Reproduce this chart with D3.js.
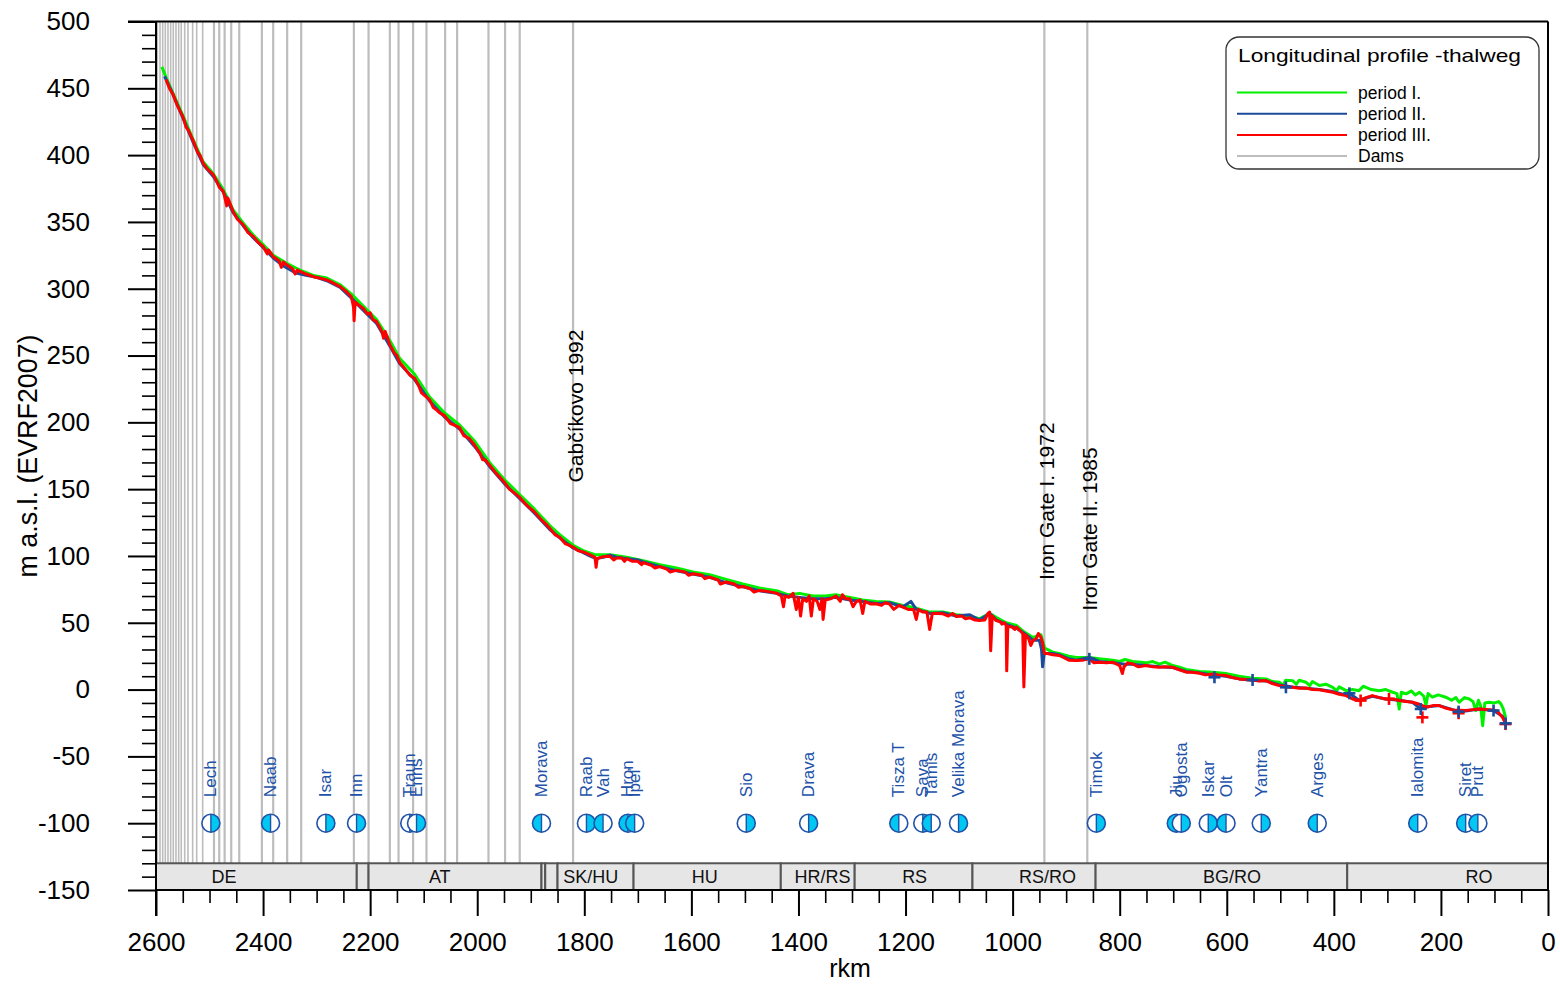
<!DOCTYPE html>
<html><head><meta charset="utf-8">
<script src="https://cdn.jsdelivr.net/npm/d3@7"></script>
<style>body{margin:0;background:#fff} svg{display:block} text{font-family:"Liberation Sans",Arial,Helvetica,sans-serif}</style>
</head><body><svg id="c" width="1560" height="985"></svg>
<script>
// ---------------- DATA ----------------
const yTicks = [-150,-100,-50,0,50,100,150,200,250,300,350,400,450,500];
const xTicks = [2600,2400,2200,2000,1800,1600,1400,1200,1000,800,600,400,200,0];

const damRkm = [2597.6,2592.5,2587.5,2582.6,2577.6,2572.6,2567.7,2562.7,2557.6,2552.8,2546.4,2540.3,2531.5,2524,2512.8,2491.7,2481.9,2471.8,2459.5,2444.5,2402.2,2381.1,2355,2328.8,2230.4,2203,2163.2,2147,2119.8,2094.8,2060,2037.6,1979,1948,1920.6,1821,940.7,860.5];
const damLabels = ["Gabčíkovo 1992","Iron Gate I. 1972","Iron Gate II. 1985"];
const damLabelRkm = [1821,940.7,860.5];
const damLabelElev = [155,82,59];

const tribNames = ["Lech","Naab","Isar","Inn","Traun","Enns","Morava","Raab","Vah","Hron","Ipeľ","Sio","Drava","Tisza T","Sava","Tamis","Velika Morava","Timok","Jiu","Ogosta","Iskar","Olt","Yantra","Arges","Ialomita","Siret","Prut"];
const tribRkm = [2497.5,2386,2282.7,2225.4,2126,2113.4,1880,1796,1765,1718.4,1706,1497.5,1381,1212.6,1167.8,1152,1101,843.6,694.3,685,634.6,601.4,535.6,431,243.3,153.8,131];
const tribBank = ["R","L","R","R","R","R","L","R","L","L","L","R","R","L","R","L","R","R","L","R","R","L","R","L","L","L","L"];
const tribElev = -100;

const countryFrom = [2600,2225,2203,1880,1873,1850,1708,1433,1295,1075,845,375];
const countryTo   = [2225,2203,1880,1873,1850,1708,1433,1295,1075,845,375,0];
const countryName = ["DE","","AT","","","SK/HU","HU","HR/RS","RS","RS/RO","BG/RO","RO"];
const countryLabelRkm = [2473,0,2070,0,0,1788,1575,1355,1183,935,590,129];

const legendNames = ["period I.","period II.","period III.","Dams"];

// period I (green)
const period1 = [[2589,466],[2580,457],[2568,446],[2549,429],[2530,411],[2512,395],[2493,386],[2474,374],[2456,359],[2437,349],[2418,340],[2400,333],[2381,325],[2356,319],[2331,314],[2306,310],[2281,308],[2256,303],[2235,296],[2213,287],[2188,277],[2163,261],[2145,248],[2117,236],[2089,219],[2061,207],[2033,198],[2005,186],[1977,170],[1949,157],[1921,146],[1893,135],[1865,123],[1846,116],[1821,108],[1802,104],[1780,101],[1752,101],[1721,99],[1690,96.5],[1659,93.5],[1628,91],[1597,88],[1566,86],[1535,82.5],[1504,79],[1473,76],[1441,74],[1420,71],[1398,72],[1373,70],[1350,70],[1330,71],[1304,69],[1280,67],[1255,66],[1230,65.5],[1205,63],[1180,61],[1155,58],[1130,58],[1105,56],[1080,55],[1062,53],[1043,57],[1030,54],[1012,50],[993,48],[978,43],[962,39],[947,41],[940,31],[925,28],[913,27],[895,25],[881,24],[857,24],[838,23],[813,22],[800,21],[790,22.5],[776,21],[751,20],[738,21],[726,19],[715,20.5],[701,18],[690,17],[676,15],[651,13.5],[626,13],[602,12],[577,10],[552,8.5],[527,8],[515,6],[502,5.5],[495,3],[490,7],[477,6.7],[470,4],[465,7],[452,5.5],[445,3],[440,6],[427,3],[415,4],[402,1.7],[395,-1],[390,2],[377,-0.8],[365,0],[353,-0.8],[345,2.5],[340,1.7],[330,0],[315,-0.8],[303,0],[290,-2],[282,-3],[278,-14.5],[274,-2],[265,-3.2],[255,-1],[248,-4],[240,-2],[232,-5],[228,-12],[224,-3],[216,-5.7],[205,-4],[191,-5.7],[180,-8],[172,-6],[166,-9.5],[156,-6],[147,-7],[140,-9],[135,-15.7],[130,-8],[126,-12],[122,-27],[118,-10],[110,-9.5],[100,-10],[92,-9],[88,-10.7],[84,-14],[79,-21]];

// period II (blue)
const period2 = [[2584,459],[2568,445],[2549,427],[2530,409],[2512,393],[2493,384],[2474,372],[2456,357],[2437,347],[2418,338],[2400,331],[2381,323],[2362,317],[2340,312],[2320,310],[2300,308.5],[2281,306],[2256,301],[2235,293],[2213,284],[2188,274],[2163,257],[2145,244],[2117,232],[2089,216],[2061,204],[2033,195],[2005,182],[1977,167],[1949,154],[1921,143],[1893,132],[1865,120],[1846,113.5],[1821,106],[1802,102.5],[1790,100],[1778,98],[1765,99],[1752,100.5],[1740,99],[1721,98],[1700,97],[1690,95.5],[1659,92],[1628,89],[1597,86.5],[1566,84],[1535,80],[1504,77],[1473,74],[1441,72],[1420,70],[1398,69],[1373,68],[1350,68],[1330,69],[1304,67],[1280,66],[1255,64.5],[1230,65],[1205,62],[1190,66],[1180,60],[1155,57],[1130,57.5],[1105,55],[1080,56],[1062,52],[1043,57],[1030,52],[1012,49],[993,46],[978,42],[962,37],[950,37],[946,30],[944,17],[941,27],[925,27],[913,26],[895,23],[881,22],[857,24],[838,21],[813,20],[790,19],[776,19],[751,18],[726,17],[701,16.5],[676,13.5],[651,12.5],[626,11],[602,10],[577,8],[552,7],[527,6.5],[502,3.5],[477,2],[452,1],[427,0],[402,-1.5],[377,-4],[371,-2.8],[353,-8],[328,-5],[303,-7],[278,-8],[253,-9.5],[238,-14.5],[228,-13],[203,-12],[178,-15],[167,-16.5],[154,-16],[129,-14.5],[102,-15.7],[85,-20],[79,-25.3]];

// period III (red)
const period3 = [[2581,456.6],[2575,450],[2568,445.3],[2560,437],[2549,428],[2544,421],[2540,419],[2530,410.3],[2522,402],[2518,400],[2512,394],[2505,390],[2493,385.4],[2485,379],[2482,376],[2474,372.8],[2468,362],[2466,368],[2456,357.9],[2448,352],[2437,347.9],[2428,342],[2418,339],[2410,335],[2400,331.6],[2392,326],[2390,329],[2381,324],[2370,321],[2366,316],[2362,320],[2356,317.9],[2345,315],[2340,311],[2336,314],[2331,312.9],[2320,311],[2306,309],[2295,308],[2281,306.6],[2270,304.5],[2256,301.6],[2245,298],[2235,294],[2231,286],[2230,276],[2228,290],[2222,288],[2213,285.4],[2205,281],[2200,282],[2195,277],[2188,275.4],[2178,268],[2175,263],[2172,268],[2163,258],[2155,252],[2150,250],[2145,245],[2135,240],[2125,235],[2117,233],[2110,228],[2104,222],[2098,220],[2089,217],[2082,211],[2075,209],[2070,207],[2061,205],[2050,199],[2043,198],[2033,196],[2025,190],[2015,188],[2005,183],[1995,177],[1990,172],[1985,172],[1977,168],[1965,162],[1958,159],[1949,155],[1940,150],[1930,147],[1921,144],[1910,139],[1902,136],[1893,133],[1880,127],[1872,124],[1865,121],[1855,116],[1846,114],[1835,109],[1828,108],[1821,106.7],[1812,104],[1802,103],[1790,101],[1780,99],[1778,91.5],[1776,98],[1765,99.5],[1752,99.7],[1745,97],[1740,98.5],[1730,98.5],[1725,96],[1721,98],[1710,96],[1700,96],[1693,93.5],[1690,95],[1675,93],[1668,91],[1659,92],[1645,90],[1640,88],[1628,89.2],[1612,88],[1605,85.5],[1597,86.7],[1580,85.5],[1575,83],[1566,84.2],[1550,82],[1546,79],[1535,80.5],[1520,79],[1512,76.5],[1504,77.2],[1490,75.5],[1483,73],[1473,74.2],[1458,73.5],[1441,72.2],[1432,70],[1428,62],[1425,70],[1418,69],[1410,72],[1404,60],[1400,69],[1396,55],[1392,68],[1385,66],[1380,70],[1376,55],[1372,68],[1365,66],[1360,60],[1356,68],[1354,52.5],[1350,67],[1340,68],[1330,70],[1322,66],[1318,71],[1312,68],[1304,68],[1298,62],[1292,66],[1285,67],[1280,57],[1276,66],[1265,64],[1255,64.2],[1245,63],[1238,65],[1230,64],[1222,60],[1212,63],[1205,61.7],[1195,60],[1185,60],[1180,52.5],[1176,60],[1168,58],[1160,58],[1155,45],[1150,57],[1140,57],[1130,56.7],[1120,55],[1112,57],[1105,54.7],[1095,55],[1088,53],[1080,53.7],[1070,52],[1062,51.7],[1052,52],[1046,57],[1043,58],[1041,29],[1038,55],[1031,51.7],[1024,51],[1020,49],[1015,50],[1012,48],[1011,14],[1009,47],[1002,47],[996,45],[993,46.7],[986,44],[981,42],[979,2],[976,41],[970,38],[966,33],[962,36.7],[956,38],[952,42],[947,39],[944,35],[940.5,27],[935,27],[925,26],[913,25.5],[905,24],[895,22],[881,21.7],[870,22],[857,23],[848,20],[838,20.5],[825,20],[813,20.5],[800,18],[795,12],[792,17],[785,20],[776,19.2],[765,17],[751,18],[738,17],[726,16.7],[715,17],[701,16.7],[690,15],[676,13],[665,13],[651,12.2],[640,11],[626,11.7],[615,11],[602,10.5],[590,9],[577,8],[565,7.5],[552,7.2],[540,6.5],[527,6.7],[515,4.5],[502,3],[490,2],[477,1.7],[465,1],[452,1.2],[440,0],[427,-0.2],[415,-1],[402,-2],[390,-3.5],[377,-4.5],[365,-7],[353,-8.2],[340,-6],[328,-4.5],[315,-6],[303,-7],[290,-7],[278,-8.2],[265,-9],[253,-9.5],[240,-11],[228,-13.2],[215,-12],[203,-12],[190,-14],[178,-15.2],[165,-15.5],[154,-15.7],[140,-15],[129,-14.5],[115,-15],[104,-15.2],[95,-16],[85,-20.8],[79,-25.3]];

const blueMarks = [[856.7,23],[623,9.2],[551.8,7.2],[489.5,1.7],[371,-2.8],[237.7,-14.5],[167,-16.5],[101.7,-15.7],[79,-25.3]];
const redMarks = [[350,-8.2],[297,-7],[234.6,-20.8],[167,-17.7],[79.4,-25.8]];

// ---------------- DRAW ----------------
const GREEN="#00f000", BLUE="#1d4b9c", RED="#ff0000", DAM="#bdbdbd", TRIB="#2152a8", CYAN="#00c8f2";
const svg=d3.select("#c");
const x=d3.scaleLinear().domain([2600,0]).range([156,1548]);
const y=d3.scaleLinear().domain([-150,500]).range([890,21.5]);

// dams
svg.append("g").selectAll("line").data(damRkm).join("line")
  .attr("x1",d=>x(d)).attr("x2",d=>x(d)).attr("y1",y(500)).attr("y2",y(-130))
  .attr("stroke",DAM).attr("stroke-width",d=>d>2500?1.6:2.2);

// country band
const band=svg.append("g");
countryName.forEach((n,i)=>{
  band.append("rect").attr("x",x(countryFrom[i])).attr("y",y(-130))
    .attr("width",x(countryTo[i])-x(countryFrom[i])).attr("height",y(-150)-y(-130))
    .attr("fill","#e6e6e6").attr("stroke","#555").attr("stroke-width",2);
  if(n) band.append("text").attr("x",x(countryLabelRkm[i])).attr("y",(y(-130)+y(-150))/2)
    .attr("text-anchor","middle").attr("dominant-baseline","central").attr("font-size",18).attr("fill","#111").text(n);
});

// profile lines
const line=d3.line().x(d=>x(d[0])).y(d=>y(d[1])).curve(d3.curveLinear);
[[period1,GREEN],[period2,BLUE],[period3,RED]].forEach(([data,c])=>{
  svg.append("path").datum(data).attr("d",line).attr("fill","none").attr("stroke",c)
    .attr("stroke-width",3).attr("stroke-linejoin","round");
});
function crosses(data,c){
  const g=svg.append("g").attr("stroke",c).attr("stroke-width",2.6);
  data.forEach(d=>{
    const cx=x(d[0]), cy=y(d[1]);
    g.append("line").attr("x1",cx-6).attr("x2",cx+6).attr("y1",cy).attr("y2",cy);
    g.append("line").attr("x1",cx).attr("x2",cx).attr("y1",cy-6).attr("y2",cy+6);
  });
}
crosses(redMarks,RED); crosses(blueMarks,BLUE);

// tributaries
const tg=svg.append("g");
tribNames.forEach((n,i)=>{
  const cx=x(tribRkm[i]), cy=y(tribElev), r=9;
  const left=tribBank[i]==="L";
  tg.append("circle").attr("cx",cx).attr("cy",cy).attr("r",r).attr("fill","#fff");
  const arc=left?`M${cx},${cy-r} A${r},${r} 0 0 0 ${cx},${cy+r} Z`:`M${cx},${cy-r} A${r},${r} 0 0 1 ${cx},${cy+r} Z`;
  tg.append("path").attr("d",arc).attr("fill",CYAN);
  tg.append("circle").attr("cx",cx).attr("cy",cy).attr("r",r).attr("fill","none").attr("stroke",TRIB).attr("stroke-width",1.6);
  tg.append("line").attr("x1",cx).attr("x2",cx).attr("y1",cy-r).attr("y2",cy+r).attr("stroke",TRIB).attr("stroke-width",1.4);
  tg.append("text").attr("transform",`translate(${cx},${y(-80.5)}) rotate(-90)`)
    .attr("text-anchor","start").attr("dominant-baseline","central").attr("font-size",17).attr("fill",TRIB).text(n);
});

// dam labels
damLabels.forEach((n,i)=>{
  svg.append("text").attr("transform",`translate(${x(damLabelRkm[i])+2},${y(damLabelElev[i])}) rotate(-90)`)
    .attr("text-anchor","start").attr("dominant-baseline","central").attr("font-size",21).attr("fill","#000").text(n);
});

// axes
const fmt=d=>String(d);
const yAxis=svg.append("g").attr("transform","translate(156,0)")
  .call(d3.axisLeft(y).tickValues(yTicks).tickSize(28).tickPadding(38).tickFormat(fmt));
const yMinor=svg.append("g").attr("transform","translate(156,0)")
  .call(d3.axisLeft(y).tickValues(d3.range(-150,501,10).filter(v=>v%50)).tickSize(14).tickFormat(""));
const xAxis=svg.append("g").attr("transform","translate(0,890)")
  .call(d3.axisBottom(x).tickValues(xTicks).tickSize(26).tickPadding(17).tickFormat(fmt));
const xMinor=svg.append("g").attr("transform","translate(0,890)")
  .call(d3.axisBottom(x).tickValues(d3.range(0,2601,50).filter(v=>v%200)).tickSize(13).tickFormat(""));
[yAxis,yMinor,xAxis,xMinor].forEach(g=>{
  g.select(".domain").remove();
  g.selectAll(".tick line").attr("stroke","#000").attr("stroke-width",1.6);
  g.selectAll("text").attr("font-size",26).attr("fill","#000").attr("font-family",'"Liberation Sans",Arial,sans-serif');
});
yAxis.selectAll(".tick line").attr("stroke-width",2);
xAxis.selectAll(".tick line").attr("stroke-width",2);

// frame
const fr=svg.append("g").attr("stroke","#000").attr("stroke-width",2);
fr.append("line").attr("x1",128).attr("x2",1548).attr("y1",y(500)).attr("y2",y(500));
fr.append("line").attr("x1",156).attr("x2",156).attr("y1",y(500)).attr("y2",916);
fr.append("line").attr("x1",1548).attr("x2",1548).attr("y1",y(500)).attr("y2",y(-150));
fr.append("line").attr("x1",156).attr("x2",1548).attr("y1",y(-150)).attr("y2",y(-150));

// axis titles
svg.append("text").attr("x",850).attr("y",968).attr("text-anchor","middle").attr("dominant-baseline","central")
  .attr("font-size",25).attr("fill","#000").text("rkm");
svg.append("text").attr("transform","translate(28,456) rotate(-90)").attr("text-anchor","middle")
  .attr("dominant-baseline","central").attr("font-size",27).attr("fill","#000")
  .attr("textLength",243).attr("lengthAdjust","spacingAndGlyphs").text("m a.s.l. (EVRF2007)");

// legend
const lg=svg.append("g");
lg.append("rect").attr("x",1226).attr("y",37).attr("width",313).attr("height",132).attr("rx",13)
  .attr("fill","#fff").attr("stroke","#333").attr("stroke-width",1.3);
lg.append("text").attr("x",1238).attr("y",62).attr("font-size",19).attr("fill","#000")
  .attr("textLength",283).attr("lengthAdjust","spacingAndGlyphs").text("Longitudinal profile -thalweg");
const lcol=[GREEN,BLUE,RED,DAM];
legendNames.forEach((n,i)=>{
  const ly=92.5+i*21.2;
  lg.append("line").attr("x1",1237).attr("x2",1347).attr("y1",ly).attr("y2",ly).attr("stroke",lcol[i]).attr("stroke-width",2);
  lg.append("text").attr("x",1358).attr("y",ly).attr("dominant-baseline","central").attr("font-size",17.5).attr("fill","#000").text(n);
});
</script></body></html>
